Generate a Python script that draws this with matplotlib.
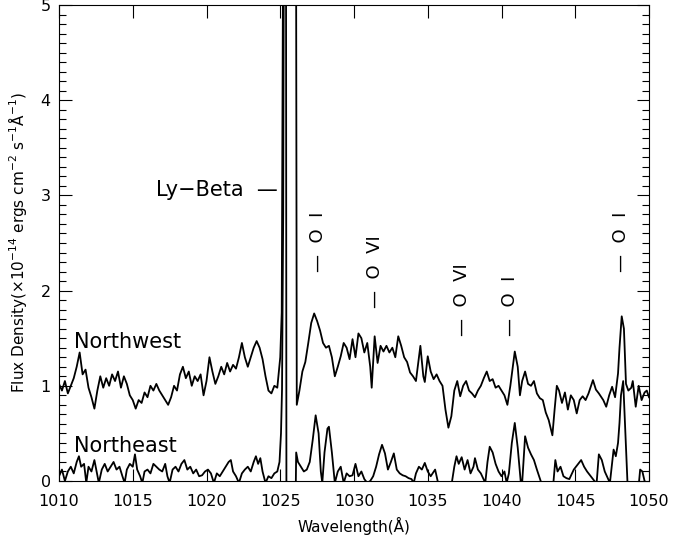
import matplotlib
matplotlib.use("Agg")
import matplotlib.pyplot as plt
from matplotlib.ticker import MultipleLocator

# Northwest spectrum (wavelength in A, flux in 1e-14 erg/cm2/s/A)
nw_wave = [1010.0, 1010.2, 1010.4, 1010.6, 1010.8, 1011.0, 1011.2, 1011.4, 1011.6, 1011.8,
           1012.0, 1012.2, 1012.4, 1012.6, 1012.8, 1013.0, 1013.2, 1013.4, 1013.6, 1013.8,
           1014.0, 1014.2, 1014.4, 1014.6, 1014.8, 1015.0, 1015.2, 1015.4, 1015.6, 1015.8,
           1016.0, 1016.2, 1016.4, 1016.6, 1016.8, 1017.0, 1017.2, 1017.4, 1017.6, 1017.8,
           1018.0, 1018.2, 1018.4, 1018.6, 1018.8, 1019.0, 1019.2, 1019.4, 1019.6, 1019.8,
           1020.0, 1020.2, 1020.4, 1020.6, 1020.8, 1021.0, 1021.2, 1021.4, 1021.6, 1021.8,
           1022.0, 1022.2, 1022.4, 1022.6, 1022.8, 1023.0, 1023.2, 1023.4, 1023.6, 1023.8,
           1024.0, 1024.2, 1024.4, 1024.6, 1024.8, 1025.0, 1025.1, 1025.25, 1026.05, 1026.12,
           1026.3, 1026.5, 1026.7, 1026.9, 1027.1, 1027.3, 1027.5, 1027.7, 1027.9, 1028.1,
           1028.3, 1028.5, 1028.7, 1028.9, 1029.1, 1029.3, 1029.5, 1029.7, 1029.9, 1030.1,
           1030.3, 1030.5, 1030.7, 1030.9, 1031.1, 1031.2, 1031.4, 1031.6, 1031.8, 1032.0,
           1032.2, 1032.4, 1032.6, 1032.8, 1033.0, 1033.2, 1033.4, 1033.6, 1033.8, 1034.0,
           1034.2, 1034.4, 1034.5, 1034.7, 1034.8, 1035.0, 1035.2, 1035.4, 1035.6, 1035.8,
           1036.0, 1036.2, 1036.4, 1036.6, 1036.8, 1037.0, 1037.2, 1037.4, 1037.6, 1037.8,
           1038.0, 1038.2, 1038.4, 1038.6, 1038.8, 1039.0, 1039.2, 1039.4, 1039.6, 1039.8,
           1040.0, 1040.2, 1040.4, 1040.6, 1040.9, 1041.0, 1041.1, 1041.25, 1041.4, 1041.6,
           1041.8, 1042.0, 1042.2, 1042.4, 1042.6, 1042.8, 1043.0, 1043.2, 1043.45, 1043.6,
           1043.75, 1043.9, 1044.1, 1044.3, 1044.5, 1044.7, 1044.9, 1045.1, 1045.3, 1045.5,
           1045.7, 1045.9, 1046.2, 1046.4, 1046.6, 1046.9, 1047.1, 1047.3, 1047.5, 1047.7,
           1047.9, 1048.0, 1048.15, 1048.3, 1048.44, 1048.6, 1048.8, 1048.9, 1049.1, 1049.3,
           1049.5, 1049.7, 1049.85, 1050.0]
nw_flux = [1.02, 0.95, 1.05, 0.92, 1.00, 1.08, 1.20, 1.35, 1.12, 1.17,
           0.98, 0.88, 0.76, 0.95, 1.10, 0.98, 1.08, 1.00, 1.12, 1.05,
           1.15, 0.98, 1.10, 1.02, 0.90, 0.85, 0.76, 0.85, 0.82, 0.93,
           0.88, 1.00, 0.95, 1.02, 0.95, 0.90, 0.85, 0.80, 0.88, 1.00,
           0.95, 1.12, 1.20, 1.08, 1.15, 1.00, 1.10, 1.05, 1.12, 0.90,
           1.05, 1.30, 1.15, 1.02, 1.10, 1.20, 1.12, 1.24, 1.15, 1.22,
           1.18, 1.30, 1.45, 1.30, 1.20, 1.30, 1.40, 1.47, 1.40, 1.28,
           1.10, 0.95, 0.92, 1.00, 0.98, 1.30, 1.77, 8.00, 8.00, 0.80,
           0.95, 1.15, 1.25, 1.45, 1.66, 1.76, 1.68, 1.58, 1.45, 1.40,
           1.42, 1.30, 1.10, 1.20, 1.31, 1.45, 1.40, 1.28, 1.49, 1.30,
           1.55, 1.50, 1.35, 1.45, 1.20, 0.98, 1.52, 1.24, 1.42, 1.36,
           1.42, 1.35, 1.40, 1.30, 1.52, 1.42, 1.30, 1.25, 1.14, 1.10,
           1.05, 1.30, 1.42, 1.10, 1.04, 1.31, 1.15, 1.07, 1.12, 1.05,
           1.00, 0.75, 0.56, 0.68, 0.95, 1.05, 0.89, 1.00, 1.05, 0.95,
           0.92, 0.88, 0.95, 1.00, 1.08, 1.15, 1.05, 1.07, 0.98, 1.00,
           0.95, 0.90, 0.80, 1.00, 1.36, 1.28, 1.20, 0.90, 1.05, 1.15,
           1.02, 1.00, 1.05, 0.92, 0.87, 0.85, 0.72, 0.64, 0.48, 0.75,
           1.00, 0.95, 0.82, 0.93, 0.75, 0.90, 0.85, 0.71, 0.85, 0.89,
           0.85, 0.92, 1.06, 0.96, 0.92, 0.85, 0.78, 0.90, 0.99, 0.88,
           1.13, 1.40, 1.73, 1.60, 1.02, 0.95, 0.98, 1.05, 0.78, 1.00,
           0.85, 0.93, 0.95, 0.88]

# Northeast spectrum
ne_wave = [1010.0, 1010.2, 1010.4, 1010.6, 1010.8, 1011.0, 1011.2, 1011.35, 1011.5, 1011.7,
           1011.85, 1012.0, 1012.2, 1012.4, 1012.55, 1012.7, 1012.9, 1013.1, 1013.3, 1013.5,
           1013.7, 1013.9, 1014.1, 1014.3, 1014.45, 1014.6, 1014.8, 1015.0, 1015.15, 1015.3,
           1015.5, 1015.65, 1015.8, 1016.0, 1016.2, 1016.4, 1016.6, 1016.8, 1017.0, 1017.2,
           1017.35, 1017.5, 1017.7, 1017.9, 1018.1, 1018.3, 1018.5, 1018.7, 1018.9, 1019.1,
           1019.3, 1019.5, 1019.7, 1019.9, 1020.1, 1020.3, 1020.5, 1020.7, 1020.9, 1021.1,
           1021.3, 1021.5, 1021.65, 1021.8, 1022.0, 1022.2, 1022.4, 1022.6, 1022.8, 1023.0,
           1023.2, 1023.35, 1023.5, 1023.65, 1023.8, 1024.0, 1024.2, 1024.4, 1024.6, 1024.8,
           1024.95, 1025.05, 1025.12, 1025.2, 1025.28, 1025.38, 1025.42, 1026.02, 1026.08, 1026.2,
           1026.4, 1026.6, 1026.8, 1027.0, 1027.2, 1027.4, 1027.6, 1027.75, 1027.85, 1028.0,
           1028.2, 1028.3, 1028.5, 1028.7, 1028.9, 1029.1, 1029.3, 1029.5, 1029.7, 1029.9,
           1030.1, 1030.3, 1030.5, 1030.7, 1030.9, 1031.1, 1031.3, 1031.5, 1031.7, 1031.9,
           1032.1, 1032.3, 1032.5, 1032.7, 1032.9, 1033.1, 1033.3, 1033.5, 1033.7, 1033.9,
           1034.05, 1034.2, 1034.4, 1034.6, 1034.8, 1035.0, 1035.2, 1035.5, 1035.7, 1036.6,
           1036.8, 1036.95, 1037.1, 1037.3, 1037.5, 1037.7, 1037.9, 1038.1, 1038.2, 1038.4,
           1038.6, 1038.9, 1039.05, 1039.2, 1039.4, 1039.6, 1039.8, 1040.0, 1040.2, 1040.35,
           1040.5, 1040.7, 1040.9, 1041.1, 1041.3, 1041.4, 1041.6, 1041.8, 1042.0, 1042.2,
           1042.4, 1042.7, 1043.5, 1043.65, 1043.8, 1044.0, 1044.2, 1044.4, 1044.6, 1044.9,
           1045.2, 1045.4, 1045.6, 1045.8, 1046.0, 1046.3, 1046.45, 1046.6, 1046.8, 1047.0,
           1047.2, 1047.35, 1047.6, 1047.75, 1047.9, 1048.0, 1048.1, 1048.25, 1048.4, 1048.55,
           1049.3, 1049.4, 1049.55, 1049.7, 1050.0]
ne_flux = [0.05, 0.12, 0.00, 0.10, 0.15, 0.08, 0.20, 0.26, 0.15, 0.18,
           -0.02, 0.15, 0.10, 0.22, 0.10, -0.02, 0.12, 0.18, 0.10, 0.15,
           0.20, 0.12, 0.15, 0.05, -0.02, 0.12, 0.18, 0.15, 0.28, 0.12,
           0.05, -0.02, 0.10, 0.12, 0.08, 0.18, 0.15, 0.12, 0.10, 0.18,
           0.05, -0.02, 0.12, 0.15, 0.10, 0.18, 0.22, 0.12, 0.15, 0.08,
           0.12, 0.05, 0.06, 0.10, 0.12, 0.08, -0.02, 0.08, 0.05, 0.10,
           0.15, 0.20, 0.22, 0.10, 0.05, -0.02, 0.08, 0.12, 0.15, 0.10,
           0.20, 0.26, 0.18, 0.24, 0.10, -0.02, 0.05, 0.03, 0.08, 0.10,
           0.20, 0.50, 0.96, 2.80, 8.00, 8.00, -0.50, -0.50, 0.30, 0.20,
           0.15, 0.10, 0.12, 0.20, 0.43, 0.69, 0.50, 0.10, -0.02, 0.30,
           0.55, 0.57, 0.30, -0.02, 0.10, 0.15, -0.02, 0.08, 0.05, 0.06,
           0.18, 0.05, 0.10, 0.02, -0.02, 0.00, 0.05, 0.15, 0.28, 0.38,
           0.29, 0.12, 0.20, 0.29, 0.12, 0.08, 0.06, 0.05, 0.03, 0.02,
           -0.02, 0.08, 0.15, 0.12, 0.19, 0.10, 0.05, 0.12, -0.02, -0.05,
           0.15, 0.26, 0.18, 0.25, 0.12, 0.22, 0.08, 0.15, 0.24, 0.12,
           0.08, -0.02, 0.20, 0.36, 0.30, 0.18, 0.10, 0.05, 0.10, -0.02,
           0.08, 0.40, 0.61, 0.35, 0.00, -0.02, 0.47, 0.35, 0.28, 0.22,
           0.12, -0.02, -0.05, 0.22, 0.10, 0.15, 0.05, 0.03, 0.02, 0.12,
           0.18, 0.22, 0.15, 0.10, 0.06, 0.00, -0.02, 0.28, 0.22, 0.10,
           0.03, -0.02, 0.33, 0.26, 0.40, 0.61, 0.90, 1.05, 0.50, -0.05,
           -0.05, 0.12, 0.10, 0.00, -0.05]

# line identifications: (label, wavelength, flux at bottom of label)
line_labels = ["—  O  I", "—  O  VI", "—  O  VI", "—  O  I", "—  O  I"]
line_waves = [1027.56, 1031.42, 1037.32, 1040.58, 1048.1]
line_y = [2.20, 1.82, 1.52, 1.52, 2.20]

fig = plt.figure(figsize=(6.73, 5.37), dpi=100)
ax = fig.add_axes([59 / 673, 1 - 481 / 537, 590 / 673, 476 / 537])

ax.plot(nw_wave, nw_flux, color='black', linewidth=1.3)
ax.plot(ne_wave, ne_flux, color='black', linewidth=1.3)

ax.set_xlim(1010, 1050)
ax.set_ylim(0, 5)
ax.xaxis.set_major_locator(MultipleLocator(5))
ax.yaxis.set_major_locator(MultipleLocator(1))
ax.yaxis.set_minor_locator(MultipleLocator(0.1))
ax.tick_params(which='both', direction='in', top=True, right=True, width=0.8)
ax.tick_params(which='major', length=9, labelsize=11.5)
ax.tick_params(which='minor', length=5)
ax.tick_params(axis='x', pad=9)
ax.tick_params(axis='y', pad=6)
for s in ax.spines.values():
    s.set_linewidth(0.8)

ax.set_xlabel('Wavelength(Å)', fontsize=11, labelpad=6)
ax.set_ylabel(r'Flux Density($\times$10$^{-14}$ ergs cm$^{-2}$ s$^{-1}$Å$^{-1}$)',
              fontsize=11, labelpad=8)

ax.text(1011.0, 1.40, 'Northwest', fontsize=15, va='baseline', ha='left')
ax.text(1011.0, 0.305, 'Northeast', fontsize=15, va='baseline', ha='left')
ax.text(1024.8, 2.99, 'Ly−Beta  —', fontsize=15, va='baseline', ha='right')

for lab, w, y in zip(line_labels, line_waves, line_y):
    ax.text(w, y, lab, rotation=90, fontsize=13, ha='center', va='bottom')

fig.savefig('out.png', dpi=100)
